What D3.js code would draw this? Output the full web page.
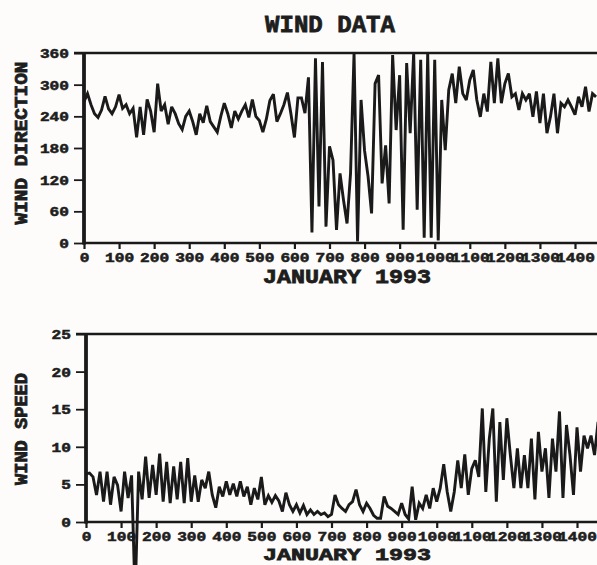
<!DOCTYPE html>
<html>
<head>
<meta charset="utf-8">
<script src="https://cdn.jsdelivr.net/npm/d3@7"></script>
<style>
  body { margin: 0; background: #fdfcfa; }
  svg { display: block; }
  text { font-family: "Liberation Mono", "Courier New", monospace; font-weight: bold; fill: #1e1e1e; stroke: #1e1e1e; stroke-width: 0.55px; }
  text.big { stroke-width: 0.8px; }
</style>
</head>
<body>
<svg id="chart" width="597" height="565"></svg>
<script>
// Hour index of each reading (every 10 h across the record)
const HOURS = d3.range(0, 1470, 10);

// Wind direction, degrees
const WIND_DIRECTION = [
  268, 283, 262, 245, 238, 252, 278, 254, 245, 258,
  281, 255, 262, 245, 255, 200, 258, 205, 272, 250,
  210, 302, 250, 262, 225, 258, 245, 226, 215, 240,
  250, 230, 205, 245, 228, 260, 230, 220, 210, 240,
  265, 245, 218, 250, 235, 250, 262, 238, 272, 240,
  232, 210, 235, 270, 282, 230, 245, 262, 285, 245,
  200, 275, 275, 246, 314, 20, 350, 69, 343, 31,
  183, 157, 25, 132, 81, 37, 132, 360, 3, 271,
  175, 126, 56, 302, 318, 113, 185, 75, 356, 214,
  318, 25, 341, 208, 360, 63, 347, 10, 360, 10,
  347, 5, 271, 176, 290, 321, 265, 334, 283, 271,
  309, 328, 271, 239, 283, 249, 343, 265, 350, 265,
  302, 321, 277, 283, 252, 283, 271, 283, 239, 287,
  227, 283, 208, 239, 283, 208, 265, 258, 271, 258,
  243, 277, 258, 296, 249, 283, 277
];

// Wind speed
const WIND_SPEED = [
  6.4, 6.5, 6.0, 3.6, 6.7, 2.7, 6.7, 2.3, 6.0, 4.9,
  1.4, 6.7, 3.2, 6.2, -10, 6.7, 3.0, 8.7, 3.2, 7.6,
  3.6, 9.1, 2.7, 8.0, 2.5, 7.4, 3.0, 8.0, 2.5, 8.5,
  2.7, 6.2, 2.7, 5.6, 4.5, 6.7, 3.6, 1.9, 4.7, 3.4,
  5.4, 3.6, 5.1, 3.4, 5.4, 3.4, 4.7, 2.3, 4.5, 3.0,
  6.0, 2.3, 3.5, 2.6, 3.5, 2.8, 1.4, 3.9, 2.3, 1.4,
  2.3, 1.2, 2.2, 1.0, 1.6, 1.0, 1.4, 1.0, 1.2, 0.7,
  1.0, 3.6, 2.3, 1.8, 1.4, 2.3, 2.7, 4.3, 2.3, 1.4,
  2.5, 1.8, 0.9, 0.5, 0.5, 3.4, 2.1, 1.8, 1.4, 1.0,
  2.5, 1.0, 0.4, 4.7, 0.3, 2.5, 1.8, 3.6, 1.8, 4.5,
  2.7, 4.5, 7.7, 4.0, 1.4, 4.0, 8.2, 4.5, 9.0, 3.6,
  7.1, 8.2, 6.0, 15.1, 4.0, 11.1, 15.1, 2.7, 13.3, 5.6,
  13.8, 8.9, 4.5, 9.8, 4.5, 8.9, 4.5, 11.1, 3.0, 12.0,
  6.7, 9.8, 3.2, 11.1, 6.7, 14.7, 3.2, 12.9, 8.9, 3.6,
  12.6, 6.7, 11.5, 9.8, 11.5, 8.9, 13.3
];

const X_TICKS = [0, 100, 200, 300, 400, 500, 600, 700, 800, 900, 1000, 1100, 1200, 1300, 1400];
const DIR_TICKS = [0, 60, 120, 180, 240, 300, 360];
const SPEED_TICKS = [0, 5, 10, 15, 20, 25];

const TITLE = "WIND DATA";
const X_TITLE = "JANUARY 1993";

const svg = d3.select("#chart");
const INK = "#1a1a1a";
const W = 597;
const CHAR_W = 9.7;   // wide typewriter lettering for tick labels

function panel(cfg) {
  const { x, y, values, yTicks, yTitle, yTitleLen, xTitleBase, xTitleSize, xTickBase, yLabelEnd } = cfg;
  const g = svg.append("g");
  const [y0, y1] = y.range();
  const left = x(0);

  // frame: top rule, bottom axis line
  g.append("line").attr("x1", left - 10).attr("x2", W).attr("y1", y1).attr("y2", y1)
    .attr("stroke", INK).attr("stroke-width", 2.6);
  g.append("line").attr("x1", left - 1).attr("x2", W).attr("y1", y0).attr("y2", y0)
    .attr("stroke", INK).attr("stroke-width", 2.6);

  // x axis ticks + labels
  const xa = g.append("g").attr("transform", `translate(0,${y0})`)
    .call(d3.axisBottom(x).tickValues(X_TICKS).tickSize(6).tickPadding(4).tickFormat(d3.format("d")));
  xa.select(".domain").remove();
  xa.selectAll(".tick line").attr("stroke", INK).attr("stroke-width", 2.2);
  xa.selectAll(".tick text")
    .attr("y", null).attr("dy", null)
    .attr("transform", `translate(0,${xTickBase - y0})`)
    .attr("font-size", 13)
    .attr("fill", INK)
    .attr("textLength", d => String(d).length * CHAR_W)
    .attr("lengthAdjust", "spacingAndGlyphs");

  // y axis ticks + labels
  const ya = g.append("g").attr("transform", `translate(${left},0)`)
    .call(d3.axisLeft(y).tickValues(yTicks).tickSize(10).tickPadding(4));
  ya.select(".domain").remove();
  ya.selectAll(".tick line").attr("stroke", INK).attr("stroke-width", 1.8);
  ya.selectAll(".tick text")
    .attr("x", yLabelEnd - left).attr("dy", "0.34em")
    .attr("font-size", 13)
    .attr("fill", INK)
    .attr("textLength", d => String(d).length * CHAR_W)
    .attr("lengthAdjust", "spacingAndGlyphs");

  // heavy left axis
  g.append("line").attr("x1", left).attr("x2", left).attr("y1", y1 - 1).attr("y2", y0 + 1.5)
    .attr("stroke", INK).attr("stroke-width", 3.8);

  // data trace
  const series = HOURS.map((h, i) => ({ h, v: values[i] }));
  g.append("path")
    .datum(series)
    .attr("fill", "none")
    .attr("stroke", INK)
    .attr("stroke-width", 2.9)
    .attr("stroke-linejoin", "miter")
    .attr("stroke-miterlimit", 3)
    .attr("d", d3.line().x(d => x(d.h)).y(d => y(d.v)));

  // axis titles
  g.append("text")
    .attr("class", "big")
    .attr("x", 263).attr("y", xTitleBase)
    .attr("font-size", xTitleSize)
    .attr("textLength", 168).attr("lengthAdjust", "spacingAndGlyphs")
    .text(X_TITLE);

  g.append("text")
    .attr("class", "big")
    .attr("transform", `translate(27,${cfg.yTitleMid}) rotate(-90)`)
    .attr("text-anchor", "middle")
    .attr("font-size", 18)
    .attr("textLength", yTitleLen).attr("lengthAdjust", "spacingAndGlyphs")
    .text(yTitle);
}

// Title
svg.append("text")
  .attr("class", "big")
  .attr("x", 265).attr("y", 32)
  .attr("font-size", 24)
  .attr("textLength", 130).attr("lengthAdjust", "spacingAndGlyphs")
  .text(TITLE);

// Upper panel: direction
panel({
  x: d3.scaleLinear().domain([0, 1400]).range([84, 575]),
  y: d3.scaleLinear().domain([0, 360]).range([243, 53]),
  values: WIND_DIRECTION,
  yTicks: DIR_TICKS,
  yTitle: "WIND DIRECTION",
  yTitleLen: 163,
  yTitleMid: 143,
  xTitleBase: 283,
  xTitleSize: 20,
  xTickBase: 262,
  yLabelEnd: 69
});

// Lower panel: speed
panel({
  x: d3.scaleLinear().domain([0, 1400]).range([86, 577]),
  y: d3.scaleLinear().domain([0, 25]).range([522, 334]),
  values: WIND_SPEED,
  yTicks: SPEED_TICKS,
  yTitle: "WIND SPEED",
  yTitleLen: 112,
  yTitleMid: 429,
  xTitleBase: 559.5,
  xTitleSize: 17,
  xTickBase: 541,
  yLabelEnd: 71
});
</script>
</body>
</html>
